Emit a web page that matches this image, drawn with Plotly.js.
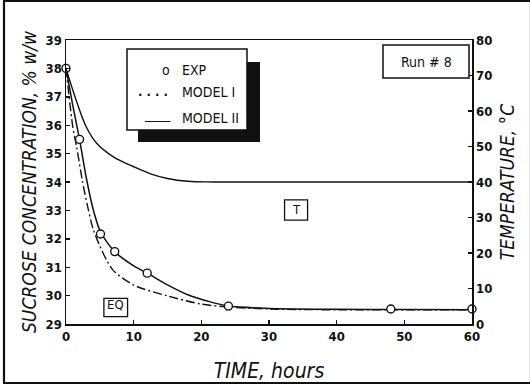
<!DOCTYPE html>
<html>
<head>
<meta charset="utf-8">
<script src="https://cdn.plot.ly/plotly-3.0.1.min.js"></script>
<style>
  html, body { margin: 0; padding: 0; background: #fff; }
  #chart { width: 530px; height: 386px; }
</style>
</head>
<body>
<div id="chart"></div>
<script>
// Experimental sucrose concentration (% w/w) vs time (hours)
const expTime = [0, 2, 5.1, 7.2, 12, 24, 48, 60];
const expConc = [38, 35.5, 32.17, 31.55, 30.79, 29.63, 29.53, 29.53];

// Model I prediction
const model1Time = [0, 1, 2, 3, 4, 5, 6, 7, 8, 10, 12, 15, 18, 21, 24, 30, 40, 50, 60];
const model1Conc = [38, 36.7, 35.5, 34.15, 33.05, 32.3, 31.9, 31.6, 31.38, 31.05, 30.79, 30.38, 30.03, 29.8, 29.63, 29.55, 29.52, 29.51, 29.5];

// Model II prediction
const model2Time = [0, 1, 1.6, 2.4, 3.2, 4, 5, 6, 7, 10, 15, 20, 24, 30, 40, 60];
const model2Conc = [38, 35.95, 35.2, 34.07, 33.13, 32.35, 31.75, 31.25, 30.88, 30.37, 29.99, 29.7, 29.6, 29.53, 29.5, 29.5];

// Temperature profile (°C)
const tempTime = [0, 1.6, 3, 4.5, 7, 10, 12.5, 15, 18, 22, 60];
const tempVal  = [72, 62.5, 55.5, 51, 47.1, 44.3, 42.3, 41, 40.2, 40, 40];

// Tick values
const xTicks = [0, 10, 20, 30, 40, 50, 60];
const yTicks = [29, 30, 31, 32, 33, 34, 35, 36, 37, 38, 39];
const y2Ticks = [0, 10, 20, 30, 40, 50, 60, 70, 80];

const W = 530, H = 386;
const M = { l: 66, r: 58, t: 40, b: 62 };
const PW = W - M.l - M.r, PH = H - M.t - M.b;
// pixel position -> paper fraction
const px = v => (v - M.l) / PW;
const py = v => (H - M.b - v) / PH;

const ink = '#111';
const narrow = '"DejaVu Sans Condensed", "Liberation Sans Narrow", "Liberation Sans", sans-serif';

const traces = [
  {
    x: tempTime, y: tempVal, yaxis: 'y2', type: 'scatter', mode: 'lines',
    line: { color: ink, width: 1.4, shape: 'spline', smoothing: 1 },
    name: 'T', showlegend: false, hoverinfo: 'skip'
  },
  {
    x: model2Time, y: model2Conc, type: 'scatter', mode: 'lines',
    line: { color: ink, width: 1.4, dash: '9px,3px,2px,3px', shape: 'spline', smoothing: 0.8 },
    name: 'MODEL II', showlegend: false
  },
  {
    x: model1Time, y: model1Conc, type: 'scatter', mode: 'lines',
    line: { color: ink, width: 1.5, shape: 'spline', smoothing: 0.8 },
    name: 'MODEL I', showlegend: false
  },
  {
    x: expTime, y: expConc, type: 'scatter', mode: 'markers',
    marker: { symbol: 'circle', size: 8, color: '#fff', line: { color: ink, width: 1.4 } },
    name: 'EXP', showlegend: false, cliponaxis: false
  }
];

const tickFont = { family: narrow, size: 13, color: ink, weight: 'bold' };
const titleFont = { family: narrow, size: 19, color: ink, style: 'italic' };

const shapes = [
  // outer frame
  { type: 'rect', xref: 'paper', yref: 'paper', x0: px(4), x1: px(531), y0: py(1), y1: py(383),
    line: { color: ink, width: 2.2 }, fillcolor: 'rgba(0,0,0,0)', layer: 'above' },
  // legend shadow and box
  { type: 'rect', xref: 'paper', yref: 'paper', x0: px(138), x1: px(260), y0: py(62), y1: py(142),
    line: { width: 0 }, fillcolor: ink, layer: 'above' },
  { type: 'rect', xref: 'paper', yref: 'paper', x0: px(127), x1: px(247), y0: py(49), y1: py(130),
    line: { color: ink, width: 1.5 }, fillcolor: '#fff', layer: 'above' },
  // run label box
  { type: 'rect', xref: 'paper', yref: 'paper', x0: px(383), x1: px(469), y0: py(45), y1: py(78),
    line: { color: ink, width: 1.5 }, fillcolor: '#fff', layer: 'above' },
  // T tag box
  { type: 'rect', xref: 'x', yref: 'y', x0: 32.3, x1: 35.7, y0: 32.66, y1: 33.37,
    line: { color: ink, width: 1.3 }, fillcolor: '#fff', layer: 'above' },
  // EQ tag box
  { type: 'rect', xref: 'x', yref: 'y', x0: 5.6, x1: 9.1, y0: 29.26, y1: 29.9,
    line: { color: ink, width: 1.3 }, fillcolor: '#fff', layer: 'above' }
];

const legFont = { family: narrow, size: 14, color: ink };
const annotations = [
  { xref: 'paper', yref: 'paper', x: px(172), y: py(70), xanchor: 'right', yanchor: 'middle', text: 'o', showarrow: false, font: legFont },
  { xref: 'paper', yref: 'paper', x: px(180), y: py(70), xanchor: 'left', yanchor: 'middle', text: 'EXP', showarrow: false, font: legFont },
  { xref: 'paper', yref: 'paper', x: px(170), y: py(91), xanchor: 'right', yanchor: 'middle', text: '. . . .', showarrow: false, font: { family: narrow, size: 13, color: ink, weight: 'bold' } },
  { xref: 'paper', yref: 'paper', x: px(180), y: py(92), xanchor: 'left', yanchor: 'middle', text: 'MODEL I', showarrow: false, font: legFont },
  { xref: 'paper', yref: 'paper', x: px(173), y: py(114), xanchor: 'right', yanchor: 'middle', text: '____', showarrow: false, font: legFont },
  { xref: 'paper', yref: 'paper', x: px(180), y: py(118), xanchor: 'left', yanchor: 'middle', text: 'MODEL II', showarrow: false, font: legFont },
  { xref: 'paper', yref: 'paper', x: px(426), y: py(62), xanchor: 'center', yanchor: 'middle', text: 'Run # 8', showarrow: false, font: { family: narrow, size: 14, color: ink } },
  { xref: 'x', yref: 'y', x: 34, y: 33.015, xanchor: 'center', yanchor: 'middle', text: 'T', showarrow: false, font: { family: narrow, size: 13, color: ink } },
  { xref: 'x', yref: 'y', x: 7.35, y: 29.7, xanchor: 'center', yanchor: 'middle', text: 'EQ', showarrow: false, font: { family: narrow, size: 13, color: ink } }
];

const layout = {
  width: W, height: H,
  margin: M,
  paper_bgcolor: '#fff', plot_bgcolor: '#fff',
  showlegend: false,
  xaxis: {
    range: [0, 60], tickvals: xTicks, ticktext: xTicks.map(String),
    ticks: 'inside', ticklen: 4, tickwidth: 1.4, tickcolor: ink,
    showline: true, linecolor: ink, linewidth: 1.5, mirror: true,
    showgrid: false, zeroline: false, tickfont: tickFont,
    title: { text: 'TIME, hours', font: { family: narrow, size: 21, color: ink, style: 'italic' }, standoff: 20 }
  },
  yaxis: {
    range: [29, 39], tickvals: yTicks, ticktext: yTicks.map(String),
    ticks: 'inside', ticklen: 4, tickwidth: 1.4, tickcolor: ink,
    showline: true, linecolor: ink, linewidth: 1.5,
    showgrid: false, zeroline: false, tickfont: tickFont,
    title: { text: 'SUCROSE CONCENTRATION, % w/w', font: titleFont, standoff: 4 }
  },
  yaxis2: {
    range: [0, 80], tickvals: y2Ticks, ticktext: y2Ticks.map(String),
    overlaying: 'y', side: 'right',
    ticks: 'inside', ticklen: 4, tickwidth: 1.4, tickcolor: ink,
    showline: true, linecolor: ink, linewidth: 1.5,
    showgrid: false, zeroline: false, tickfont: tickFont,
    title: { text: 'TEMPERATURE, °C', font: titleFont, standoff: 9 }
  },
  shapes: shapes,
  annotations: annotations
};

Plotly.newPlot('chart', traces, layout, { displayModeBar: false, staticPlot: true });
</script>
</body>
</html>
